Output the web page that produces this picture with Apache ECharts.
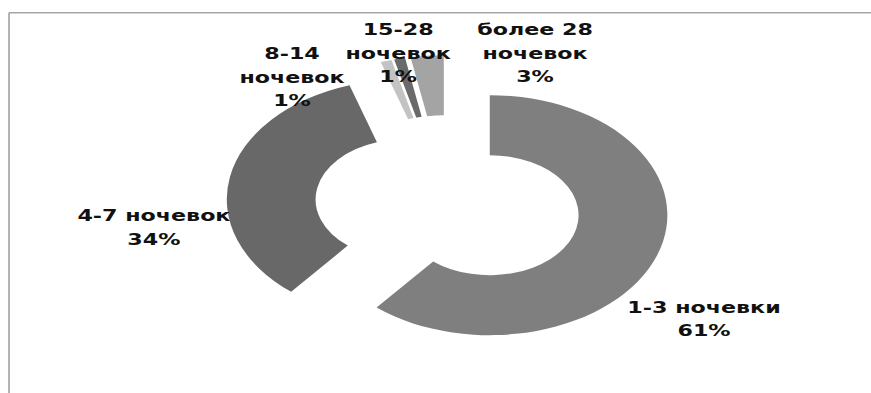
<!DOCTYPE html>
<html>
<head>
<meta charset="utf-8">
<script src="https://cdn.jsdelivr.net/npm/echarts@6/dist/echarts.min.js"></script>
<style>
  html, body { margin: 0; padding: 0; background: #fff; overflow: hidden; }
  #wrap { width: 871px; height: 393px; overflow: hidden; position: relative; }
  /* the reference picture is stretched horizontally by ~1.48x */
  #chart { width: 588.5px; height: 393px; transform: scaleX(1.48); transform-origin: 0 0; }
</style>
</head>
<body>
<div id="wrap"><div id="chart"></div></div>
<script>
// Data
const categories = ['1-3 ночевки', '4-7 ночевок', '8-14\nночевок', '15-28\nночевок', 'более 28\nночевок'];
const values = [61, 34, 1, 1, 3];
const colors = ['#7f7f7f', '#686868', '#c3c3c3', '#6a6a6a', '#a4a4a4'];
// label anchor points (chart px, before horizontal stretch)
const labelPos = [[475.7, 319], [104, 227.5], [197.3, 77], [269, 53], [361.5, 53]];

const total = values.reduce((a, b) => a + b, 0);
const labelTexts = categories.map((c, i) => c + '\n' + Math.round(values[i] / total * 100) + '%');

const chart = echarts.init(document.getElementById('chart'), null, { renderer: 'svg' });
const frame = [
  { type: 'line', shape: { x1: 6, y1: 12.7, x2: 589, y2: 12.7 }, style: { stroke: '#a6a6a6', lineWidth: 1.6 }, silent: true },
  { type: 'line', shape: { x1: 6.1, y1: 12.7, x2: 6.1, y2: 393 }, style: { stroke: '#a6a6a6', lineWidth: 1.15 }, silent: true }
];
const labels = labelTexts.map((t, i) => ({
  type: 'text',
  x: labelPos[i][0],
  y: labelPos[i][1],
  silent: true,
  z: 100,
  style: {
    text: t,
    fontFamily: 'DejaVu Sans',
    fontWeight: 'bold',
    fontSize: 15,
    lineHeight: 23.5,
    fill: '#111111',
    align: 'center',
    verticalAlign: 'middle',
    textAlign: 'center',
    textVerticalAlign: 'middle'
  }
}));

const option = {
  backgroundColor: '#ffffff',
  animation: false,
  graphic: frame.concat(labels),
  series: [{
    type: 'pie',
    center: [302.7, 205],
    radius: [60, 120],
    startAngle: 90,
    clockwise: true,
    selectedMode: 'multiple',
    selectedOffset: 30,
    avoidLabelOverlap: false,
    emphasis: { disabled: true },
    itemStyle: { borderWidth: 0 },
    label: { show: false },
    labelLine: { show: false },
    data: categories.map((c, i) => ({ name: c, value: values[i], selected: true, itemStyle: { color: colors[i] } }))
  }]
};
chart.setOption(option);
</script>
</body>
</html>
